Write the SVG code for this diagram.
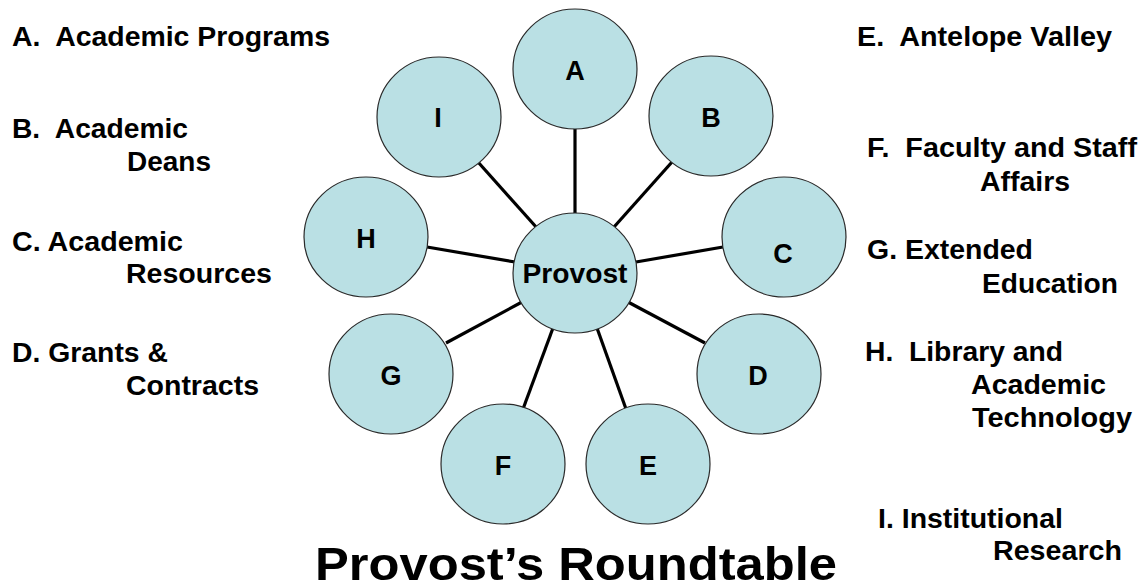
<svg xmlns="http://www.w3.org/2000/svg" width="1146" height="588" viewBox="0 0 1146 588">
<style>
.node ellipse{fill:#BAE0E4;stroke:#2a2a2a;stroke-width:1.2}
.node text{font-family:"Liberation Sans",Arial,sans-serif;font-weight:bold;font-size:27px;fill:#000;text-anchor:middle}
.conn line{stroke:#000;stroke-width:3.2;stroke-linecap:butt}
.lbl{font-family:"Liberation Sans",Arial,sans-serif;font-weight:bold;font-size:27px;fill:#000}
.title{font-family:"Liberation Sans",Arial,sans-serif;font-weight:bold;font-size:46px;fill:#000}
</style>
<rect width="1146" height="588" fill="#fff"/>
<g id="connectors" class="conn">
<line x1="575" y1="128" x2="575" y2="214"/>
<line x1="672" y1="162" x2="614" y2="227"/>
<line x1="478" y1="162" x2="537" y2="228"/>
<line x1="427" y1="247" x2="515" y2="262"/>
<line x1="636" y1="262" x2="723" y2="247"/>
<line x1="446" y1="343" x2="522" y2="302"/>
<line x1="628" y1="302" x2="705" y2="343"/>
<line x1="553" y1="328" x2="523" y2="409"/>
<line x1="597" y1="328" x2="626" y2="409"/>
</g>
<g id="node-A" class="node"><ellipse cx="575" cy="69" rx="62" ry="60"/><text x="575" y="80">A</text></g>
<g id="node-B" class="node"><ellipse cx="711" cy="116" rx="62" ry="60"/><text x="711" y="127">B</text></g>
<g id="node-C" class="node"><ellipse cx="784" cy="237" rx="62" ry="60"/><text x="783" y="263">C</text></g>
<g id="node-D" class="node"><ellipse cx="759" cy="374" rx="62" ry="60"/><text x="758" y="385">D</text></g>
<g id="node-E" class="node"><ellipse cx="648" cy="464" rx="62" ry="60"/><text x="648" y="475">E</text></g>
<g id="node-F" class="node"><ellipse cx="503" cy="464" rx="62" ry="60"/><text x="503" y="475">F</text></g>
<g id="node-G" class="node"><ellipse cx="391" cy="374" rx="62" ry="60"/><text x="391" y="385">G</text></g>
<g id="node-H" class="node"><ellipse cx="366" cy="237" rx="62" ry="60"/><text x="366" y="248">H</text></g>
<g id="node-I" class="node"><ellipse cx="439" cy="117" rx="62" ry="60"/><text x="438" y="127">I</text></g>
<g id="node-Provost" class="node"><ellipse cx="575" cy="273" rx="62" ry="60"/><text x="575" y="283" style="font-size:28px" textLength="105" lengthAdjust="spacingAndGlyphs">Provost</text></g>
<g id="labels-left">
<text class="lbl" x="12" y="46" xml:space="preserve" textLength="318" lengthAdjust="spacingAndGlyphs">A.  Academic Programs</text>
<text class="lbl" x="12" y="138" xml:space="preserve" textLength="176" lengthAdjust="spacingAndGlyphs">B.  Academic</text>
<text class="lbl" x="127" y="171" textLength="84" lengthAdjust="spacingAndGlyphs">Deans</text>
<text class="lbl" x="12" y="251" textLength="171" lengthAdjust="spacingAndGlyphs">C. Academic</text>
<text class="lbl" x="126" y="283" textLength="146" lengthAdjust="spacingAndGlyphs">Resources</text>
<text class="lbl" x="12" y="362" textLength="156" lengthAdjust="spacingAndGlyphs">D. Grants &amp;</text>
<text class="lbl" x="126" y="395" textLength="133" lengthAdjust="spacingAndGlyphs">Contracts</text>
</g>
<g id="labels-right">
<text class="lbl" x="857" y="46" xml:space="preserve" textLength="255" lengthAdjust="spacingAndGlyphs">E.  Antelope Valley</text>
<text class="lbl" x="867" y="157" xml:space="preserve" textLength="270" lengthAdjust="spacingAndGlyphs">F.  Faculty and Staff</text>
<text class="lbl" x="980" y="191" textLength="90" lengthAdjust="spacingAndGlyphs">Affairs</text>
<text class="lbl" x="867" y="259" textLength="166" lengthAdjust="spacingAndGlyphs">G. Extended</text>
<text class="lbl" x="982" y="293" textLength="136" lengthAdjust="spacingAndGlyphs">Education</text>
<text class="lbl" x="865" y="361" xml:space="preserve" textLength="198" lengthAdjust="spacingAndGlyphs">H.  Library and</text>
<text class="lbl" x="971" y="394" textLength="135" lengthAdjust="spacingAndGlyphs">Academic</text>
<text class="lbl" x="972" y="427" textLength="160" lengthAdjust="spacingAndGlyphs">Technology</text>
<text class="lbl" x="878" y="528" textLength="185" lengthAdjust="spacingAndGlyphs">I. Institutional</text>
<text class="lbl" x="993" y="560" textLength="129" lengthAdjust="spacingAndGlyphs">Research</text>
</g>
<text id="title" class="title" x="315" y="580" textLength="522" lengthAdjust="spacingAndGlyphs">Provost’s Roundtable</text>
</svg>
